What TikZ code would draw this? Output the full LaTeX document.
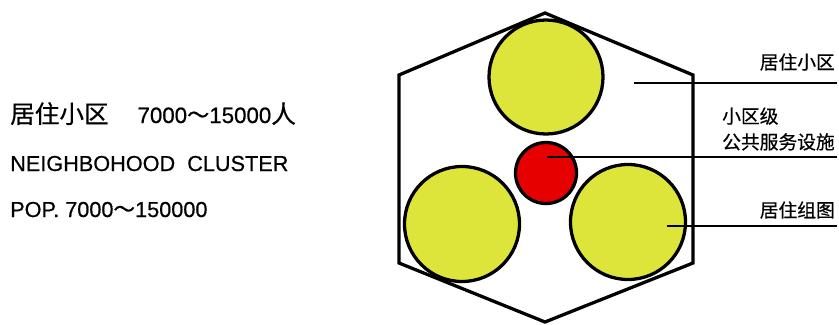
\documentclass[tikz,border=0pt]{standalone}
\usepackage{fontspec}
\setmainfont{Liberation Sans}[FakeBold=0.6]
\newfontfamily\cjk{Noto Sans CJK SC}[FakeBold=0.5]
\usepackage{xcolor}
\usepackage{tikz}
\usetikzlibrary{positioning}

\definecolor{grpyellow}{RGB}{221,229,58}
\definecolor{fclred}{RGB}{230,0,0}

\begin{document}
\begin{tikzpicture}[x=0.03cm, y=-0.03cm,
  grp/.style={circle, draw=black, line width=2.8pt, fill=grpyellow, inner sep=0pt},
  fcl/.style={circle, draw=black, line width=2.8pt, fill=fclred, inner sep=0pt},
  leader/.style={draw=black, line width=1.2pt},
  lbl/.style={font=\cjk\fontsize{16}{19}\selectfont, inner sep=0pt}]
\useasboundingbox (0,0) rectangle (839,324);
% left caption
\node[anchor=base west, inner sep=0pt, font=\fontsize{19}{22}\selectfont] (capcn) at (10,123)
  {{\cjk\fontsize{21}{24}\selectfont 居住小区}\hspace{1.3em}7000{\cjk ～}15000{\cjk\fontsize{21}{24}\selectfont 人}};
\node[anchor=base west, inner sep=0pt, font=\fontsize{18.5}{22}\selectfont] (capen) at (10,171)
  {NEIGHBOHOOD\ \ CLUSTER};
\node[anchor=base west, inner sep=0pt, font=\fontsize{18.5}{22}\selectfont] (cappop) at (10,217)
  {POP. 7000{\cjk ～}150000};
% hexagon of the cluster
\draw[line width=2.8pt, line join=miter] (545,13) -- (693,75) -- (693,263) -- (545,322)
  -- (399,263) -- (399,75) -- cycle;
% three housing groups and the centre
\node[grp, minimum size=114*0.03cm] (grptop) at (546,77) {};
\node[grp, minimum size=115*0.03cm] (grpleft) at (462,224) {};
\node[grp, minimum size=115*0.03cm] (grpright) at (628,222) {};
\node[fcl, minimum size=61*0.03cm] (centre) at (546,173) {};
% labels on the right
\node[lbl, anchor=east] (lblcluster) at (835,62) {居住小区};
\node[lbl, anchor=west, align=left, font=\cjk\fontsize{16}{22}\selectfont] (lblcentre) at (722,129)
  {小区级\\公共服务设施};
\node[lbl, anchor=east] (lblgroup) at (835,210) {居住组图};
% leaders
\coordinate (ptop) at (634,83);
\coordinate (endtop) at (837,83);
\coordinate (pmid) at (547,157);
\coordinate (endmid) at (837,157);
\coordinate (pgrp) at (667,226);
\coordinate (endgrp) at (837,226);
\draw[leader] (ptop) -- (endtop);
\draw[leader] (pmid) -- (endmid);
\draw[leader] (pgrp) -- (endgrp);
\end{tikzpicture}
\end{document}
